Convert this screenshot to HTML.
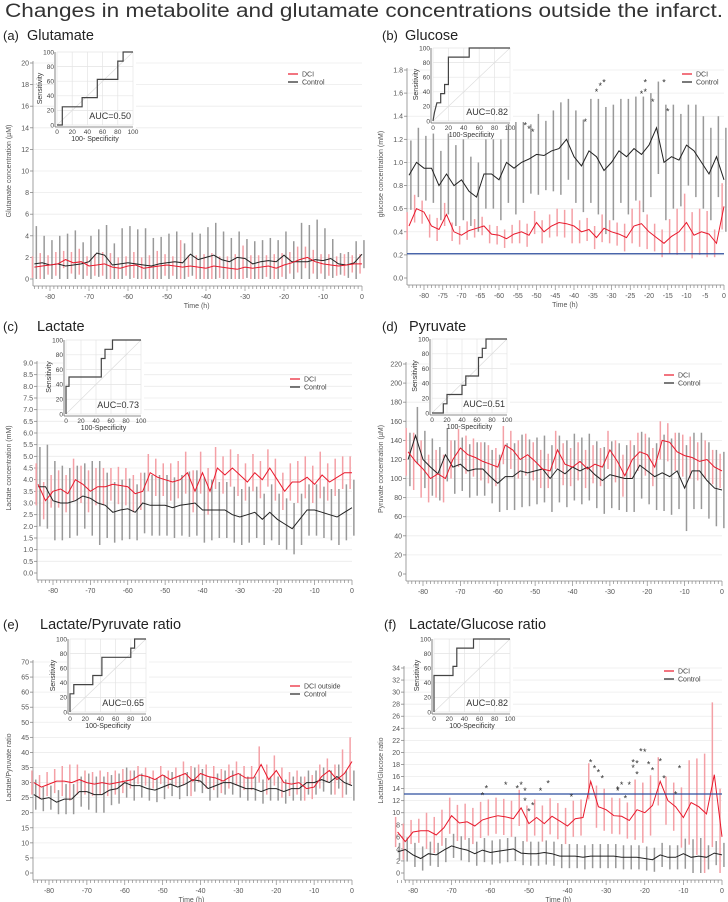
<!DOCTYPE html>
<html><head><meta charset="utf-8"><style>
html,body{margin:0;padding:0;background:#fff}
svg{display:block;font-family:"Liberation Sans",sans-serif}
</style></head><body>
<svg id="fig" width="728" height="902" viewBox="0 0 728 902">
<text x="364" y="17" text-anchor="middle" font-size="19" fill="#333" textLength="718" lengthAdjust="spacingAndGlyphs">Changes in metabolite and glutamate concentrations outside the infarct.</text>
</svg>
<script>
const times=[-84,-82,-80,-78,-76,-74,-72,-70,-68,-66,-64,-62,-60,-58,-56,-54,-52,-50,-48,-46,-44,-42,-40,-38,-36,-34,-32,-30,-28,-26,-24,-22,-20,-18,-16,-14,-12,-10,-8,-6,-4,-2,0];

const aDci=[1.1,1.2,1.3,1.4,1.8,1.5,1.6,1.2,1.3,1.4,1.1,1.0,1.2,1.3,1.0,1.1,1.2,1.3,1.2,1.1,1.2,1.1,1.0,1.2,1.1,1.0,0.9,1.1,1.0,1.1,1.2,1.0,1.3,1.5,1.8,2.0,1.6,1.4,1.3,1.2,1.3,1.4,1.4];
const aDciSd=[1.0,1.2,0.9,1.1,0.8,1.0,1.2,0.9,1.0,1.1,1.3,1.0,0.9,1.2,1.0,1.1,1.4,1.0,0.9,2.5,1.0,1.1,1.3,1.2,1.0,1.1,1.4,2.0,1.2,1.1,1.0,1.3,1.1,1.0,1.2,1.0,1.1,0.9,1.0,0.9,1.0,0.8,0.9];
const aCtl=[1.4,1.5,1.3,1.4,1.2,1.3,1.4,1.6,2.4,2.2,1.3,1.4,1.5,1.4,1.3,1.2,1.4,1.5,1.6,1.5,2.3,1.8,2.0,2.2,1.8,1.6,2.0,1.9,1.4,1.6,1.7,1.6,2.2,1.6,1.6,1.6,1.8,1.7,1.9,1.4,1.3,1.5,2.3];
const aCtlSd=[3.5,2.5,2.3,2.6,3.0,3.2,2.0,2.4,2.2,2.8,2.0,3.3,3.4,3.2,3.4,2.6,2.5,2.7,2.8,1.8,2.0,2.4,2.8,3.0,2.6,2.2,2.4,1.8,2.1,2.0,2.1,2.0,2.2,1.9,3.6,3.4,3.7,3.0,1.8,1.0,1.2,2.0,1.3];

const bDci=[0.45,0.6,0.57,0.45,0.42,0.55,0.4,0.37,0.41,0.43,0.45,0.38,0.37,0.34,0.38,0.4,0.37,0.48,0.4,0.45,0.48,0.47,0.45,0.4,0.42,0.35,0.43,0.4,0.38,0.35,0.45,0.47,0.4,0.35,0.3,0.36,0.4,0.48,0.37,0.4,0.38,0.3,0.62];
const bDciSd=[0.12,0.12,0.1,0.1,0.1,0.1,0.08,0.08,0.08,0.08,0.08,0.08,0.08,0.08,0.08,0.1,0.1,0.1,0.1,0.1,0.12,0.12,0.15,0.1,0.1,0.1,0.12,0.1,0.1,0.12,0.15,0.2,0.15,0.12,0.12,0.15,0.2,0.25,0.2,0.2,0.2,0.12,0.2];
const bCtl=[0.89,1.0,0.95,0.95,0.8,0.9,0.8,0.85,0.75,0.7,0.9,0.9,0.85,1.0,0.95,1.0,1.03,1.07,1.06,1.1,1.12,1.2,1.05,0.97,1.1,1.05,0.93,1.0,1.1,1.05,1.12,1.07,1.15,1.3,1.0,1.05,1.02,1.15,1.1,1.0,0.9,1.05,0.85];
const bCtlSd=[0.3,0.3,0.28,0.3,0.3,0.35,0.35,0.35,0.3,0.3,0.3,0.3,0.35,0.35,0.4,0.35,0.3,0.35,0.3,0.35,0.4,0.35,0.4,0.4,0.45,0.5,0.55,0.5,0.45,0.5,0.45,0.5,0.45,0.4,0.5,0.45,0.4,0.35,0.4,0.4,0.4,0.35,0.45];
const bStarT=[-53,-52,-51,-37,-34,-33,-32,-22,-21,-21,-19,-16,-15];
const bStarV=[1.33,1.3,1.27,1.36,1.62,1.67,1.7,1.6,1.62,1.7,1.53,1.7,1.45];

const cDci=[3.8,3.1,3.5,3.6,3.4,4.0,3.8,3.5,3.7,3.7,3.8,3.75,3.7,3.4,3.5,4.3,4.1,4.0,3.9,4.0,4.3,3.5,4.3,3.5,4.5,4.2,4.5,4.2,3.9,4.3,4.0,4.5,4.0,3.5,3.9,3.9,4.1,3.8,4.2,3.9,4.1,4.3,4.3];
const cDciSd=[0.9,0.8,0.7,0.8,0.8,0.9,0.8,0.9,0.8,0.8,0.7,0.8,0.8,0.8,0.8,0.8,0.8,0.7,0.8,0.8,0.9,0.9,0.9,1.0,0.9,0.8,0.8,0.9,0.8,0.8,0.8,0.8,0.9,0.8,0.8,0.9,0.9,0.8,1.0,0.8,0.8,0.7,0.7];
const cCtl=[3.7,3.7,3.1,3.0,3.0,3.1,3.3,3.2,3.0,2.9,2.6,2.7,2.75,2.6,3.0,2.9,2.9,2.9,2.8,2.9,2.95,3.0,2.7,2.7,2.7,2.7,2.5,2.4,2.5,2.6,2.3,2.6,2.3,2.1,1.9,2.3,2.7,2.7,2.6,2.5,2.4,2.6,2.8];
const cCtlSd=[1.7,1.8,1.7,1.6,1.5,1.5,1.4,1.6,1.8,1.4,1.3,1.3,1.3,1.2,1.3,1.3,1.3,1.3,1.3,1.3,1.4,1.4,1.4,1.3,1.2,1.2,1.2,1.2,1.2,1.1,1.1,1.2,1.1,1.1,1.1,1.1,1.1,1.1,1.1,1.1,1.2,1.2,1.2];

const dDci=[128,118,110,100,105,100,120,132,125,122,118,115,112,135,130,120,125,118,110,108,130,115,112,118,110,115,112,130,118,103,120,128,125,112,140,138,128,124,122,118,120,112,108];
const dDciSd=[25,30,30,25,25,25,20,20,20,20,20,20,20,20,20,20,22,20,20,18,20,22,20,20,20,20,20,20,22,22,20,20,22,20,20,20,20,22,22,20,20,18,18];
const dCtl=[120,145,120,112,105,125,112,115,108,110,110,102,95,102,102,108,106,108,110,100,110,105,112,108,112,104,98,104,102,100,100,114,108,102,106,102,108,90,108,108,98,90,88];
const dCtlSd=[28,30,30,30,28,28,28,28,28,28,28,28,30,35,35,38,35,35,35,35,35,35,35,35,35,35,35,35,35,35,35,35,35,35,40,40,40,45,40,40,40,40,40];

const eDci=[30,28.5,29.5,30.5,30.5,30,31,30,29.5,30,29.5,30,30.5,31,32.5,32,31,32.5,31,32,33,30.5,33,32,31.5,30.5,32,33,31.5,31.5,36,31,34,30,29.5,30,28,28.5,32,34,31,33,37];
const eDciSd=[4,4,4,4,5,6,5,4,4,4,4,4,4,3,3,3,3,3,3,3,4,5,3,4,4,4,4,4,4,4,6,5,5,5,4,4,4,4,4,4,5,8,8];
const eCtl=[26,24.5,25,23.5,24.5,24.5,27,27,26,26,27.5,28,30,29,29,28,27.5,28.5,29.5,28.5,29.5,31,30.5,28,29,30,30,29,28,28,27,28,28,27,28,28,30,30,31,30,32,30,29];
const eCtlSd=[5,4,4,4,5,5,5,6,6,6,5,5,5,5,4,4,4,4,4,4,4,4,4,4,4,4,4,4,4,4,4,4,4,4,4,4,4,4,4,4,4,4,5];

const fDci=[6.8,5.2,6.8,7.0,7.0,6.3,7.5,9.5,8.3,8.5,7.8,8.8,9.2,9.5,9.3,9.0,10.8,8.2,9.2,8.2,9.4,8.6,7.8,9.0,9.2,15.2,11,10.5,9.5,9.4,8.7,10.5,10,11.2,15.2,12,11,9.2,11.7,11,9.8,16.3,6];
const fDciSd=[2.5,3,2,2,3,3,3,3,3,3,3,3,3,3,3,3,3,3,3,3,3,3,3,3,3,3,3.5,3.5,3,3,3,5,5,5,4,4,4,5,7,8,10,12,8];
const fCtl=[3.5,3.9,3.0,2.4,3.2,3.0,3.8,4.5,4.1,3.8,3.2,3.8,3.4,3.6,3.8,4.0,3.3,3.2,3.2,3.4,3.2,2.8,2.8,2.8,2.6,2.8,2.8,2.8,2.8,2.6,2.6,2.6,2.4,2.2,3.0,2.6,2.6,3.2,2.6,2.8,2.6,3.3,3.0];
const fCtlSd=[1.5,2,2,2,2,2,2,2,2,2,2,2,2,2,2,2,2,2,2,2,2,2,2,2,2,2,2,2,2,2,2,2,2,2,2,2,2,2.5,3,3,2,2,2];
const fStarT=[-62,-61,-56,-53,-52,-51,-51,-50,-49,-47,-45,-39,-34,-33,-32,-31,-27,-27,-26,-25,-24,-23,-23,-22,-22,-21,-20,-19,-18,-16,-15,-12,-11];
const fStarV=[13,14.2,14.8,14.2,14.8,13.8,12.1,10.4,11.4,13.8,15,12.8,18.5,17.5,16.8,15.8,14,13.8,14.8,12.5,14.8,18.5,17.6,18.3,16.5,20.3,20.2,18.2,17.2,18.7,15.8,13.2,17.5];

const rocAx=[0,7,7,33,33,53,53,80,80,87,87,100], rocAy=[0,0,25,25,37.5,37.5,62.5,62.5,87.5,87.5,100,100];
const rocBx=[0,2,5,10,10,15,15,20,20,47,47,100], rocBy=[0,12,25,25,37.5,37.5,50,50,87.5,87.5,100,100];
const rocCx=[0,0,4,4,47,47,52,52,62,62,100], rocCy=[0,37.5,37.5,50,50,75,75,87.5,87.5,100,100];
const rocDx=[0,15,15,20,20,40,40,45,45,62,62,67,67,72,72,100], rocDy=[0,0,12.5,12.5,25,25,37.5,37.5,50,50,75,75,87.5,87.5,100,100];
const rocEx=[0,0,5,5,30,30,42,42,80,80,85,85,100], rocEy=[0,25,25,37.5,37.5,50,50,75,75,87.5,87.5,100,100];
const rocFx=[0,0,25,25,30,30,52,52,100], rocFy=[0,50,50,62.5,62.5,87.5,87.5,100,100];

const NS='http://www.w3.org/2000/svg';
const svg=document.getElementById('fig');
function mk(tag,attrs,parent,text){const e=document.createElementNS(NS,tag);for(const k in attrs)e.setAttribute(k,attrs[k]);if(text!==undefined)e.textContent=text;(parent||svg).appendChild(e);return e;}

const panels=[
 {id:'a',label:'(a)',title:'Glutamate',lx:3,tx:27,ty:40,x80:50,x0:362,y0:279,yT:63,vT:20,step:2,dec:0,axX:33,xStep:10,ytitle:'Glutamate concentration (\u00b5M)',ytx:8,xtitle:true,
  dci:aDci,dciSd:aDciSd,ctl:aCtl,ctlSd:aCtlSd,roc:[rocAx,rocAy],auc:'AUC=0.50',inset:[57,133,52,125],leg:[288,74],dciName:'DCI',rocx:'100- Specificity'},
 {id:'b',label:'(b)',title:'Glucose',lx:382,tx:405,ty:40,x80:424,x0:724,y0:278,yT:70,vT:1.8,step:0.2,dec:1,axX:407,xStep:5,ytitle:'glucose concentration (mM)',ytx:380,xtitle:true,
  dci:bDci,dciSd:bDciSd,ctl:bCtl,ctlSd:bCtlSd,roc:[rocBx,rocBy],auc:'AUC=0.82',inset:[433,510,48,121],leg:[682,74],dciName:'DCI',hline:0.21,starT:bStarT,starV:bStarV,rocx:'100-Specificity'},
 {id:'c',label:'(c)',title:'Lactate',lx:3,tx:37,ty:331,x80:53,x0:352,y0:573,yT:363,vT:9,step:0.5,dec:1,axX:37,xStep:10,ytitle:'Lactate concentration (mM)',ytx:8,xtitle:false,
  dci:cDci,dciSd:cDciSd,ctl:cCtl,ctlSd:cCtlSd,roc:[rocCx,rocCy],auc:'AUC=0.73',inset:[66,141,340,414],leg:[290,379],dciName:'DCI',rocx:'100-Specificity'},
 {id:'d',label:'(d)',title:'Pyruvate',lx:382,tx:409,ty:331,x80:423,x0:722,y0:574,yT:364,vT:220,step:20,dec:0,axX:406,xStep:10,ytitle:'Pyruvate concentration (\u00b5M)',ytx:380,xtitle:false,
  dci:dDci,dciSd:dDciSd,ctl:dCtl,ctlSd:dCtlSd,roc:[rocDx,rocDy],auc:'AUC=0.51',inset:[432,507,339,413],leg:[664,375],dciName:'DCI',rocx:'100-Specificity'},
 {id:'e',label:'(e)',title:'Lactate/Pyruvate ratio',lx:3,tx:40,ty:629,x80:49,x0:352,y0:873,yT:662,vT:70,step:5,dec:0,axX:33,xStep:10,ytitle:'Lactate/Pyruvate ratio',ytx:8,xtitle:true,
  dci:eDci,dciSd:eDciSd,ctl:eCtl,ctlSd:eCtlSd,roc:[rocEx,rocEy],auc:'AUC=0.65',inset:[70,146,639,712],leg:[290,686],dciName:'DCI outside',rocx:'100-Specificity'},
 {id:'f',label:'(f)',title:'Lactate/Glucose ratio',lx:384,tx:409,ty:629,x80:413,x0:722,y0:873,yT:668,vT:34,step:2,dec:0,axX:404,xStep:10,ytitle:'Lactate/Glucose ratio',ytx:380,xtitle:true,
  dci:fDci,dciSd:fDciSd,ctl:fCtl,ctlSd:fCtlSd,roc:[rocFx,rocFy],auc:'AUC=0.82',inset:[434,510,639,712],leg:[664,671],dciName:'DCI',hline:13.1,starT:fStarT,starV:fStarV,rocx:'100-Specificity'}
];

panels.forEach(p=>{
  const g=mk('g',{});
  
  
  const X=t=>p.x0+(p.x80-p.x0)*(t/-80);
  const Y=v=>p.y0-(p.y0-p.yT)*(v/p.vT);
  const xl=X(-84.8), xr=X(0);
  const lab=mk('text',{x:p.lx,y:p.ty,'font-size':13,fill:'#222'},g,p.label);
  
  
  const tt=mk('text',{x:p.tx,y:p.ty,'font-size':14.5,fill:'#222'},g,p.title);
  
  
  const nT=Math.round(p.vT/p.step);
  for(let i=0;i<=nT;i++){
    const v=i*p.step, y=Y(v);
    if(i>0) mk('line',{x1:p.axX,x2:xr,y1:y,y2:y,stroke:'#ececec','stroke-width':0.8},g);
    mk('line',{x1:p.axX-3,x2:p.axX,y1:y,y2:y,stroke:'#888','stroke-width':0.8},g);
    const tl=mk('text',{x:p.axX-4,y:y+2.5,'font-size':7,fill:'#555','text-anchor':'end'},g,v.toFixed(p.dec));
    
    
  }
  const ya=mk('line',{x1:p.axX,x2:p.axX,y1:Y(p.vT)-2,y2:p.y0+7,stroke:'#888','stroke-width':0.8},g);
  
  
  const yt=mk('text',{x:0,y:0,'font-size':7,fill:'#555','text-anchor':'middle',transform:`translate(${p.ytx+3},${(p.y0+p.yT)/2}) rotate(-90)`},g,p.ytitle);
  
  
  const axY=p.y0+7;
  const xa=mk('line',{x1:p.axX,x2:xr,y1:axY,y2:axY,stroke:'#888','stroke-width':0.8},g);
  
  
  for(let t=-84;t<=0;t++){
    const major=(t%p.xStep===0);
    mk('line',{x1:X(t),x2:X(t),y1:axY,y2:axY+(major?5:3),stroke:'#888','stroke-width':0.7},g);
    if(major){
      const xl2=mk('text',{x:X(t),y:axY+13,'font-size':7,fill:'#555','text-anchor':'middle'},g,String(t));
      
      
    }
  }
  if(p.xtitle){
    const xt=mk('text',{x:(xl+xr)/2,y:axY+22,'font-size':7,fill:'#555','text-anchor':'middle'},g,'Time (h)');
    
    
  }
  const series=[[p.ctl,p.ctlSd,'#999','#222','control'],[p.dci,p.dciSd,'#f4a0a6','#e8192c','dci']];
  series.forEach(([m,sd,bc,lc,nm],si)=>{
    const sg=mk('g',{},g);
    
    
    m.forEach((v,i)=>{
      const t=times[i]+(si===0?0.5:-0.5);
      const lo=Math.max(0,v-sd[i]), hi=Math.min(p.vT*1.05,v+sd[i]);
      const eb=mk('line',{x1:X(t),x2:X(t),y1:Y(lo),y2:Y(hi),stroke:bc,'stroke-width':1.5},sg);
      
      
    });
  });
  series.forEach(([m,sd,bc,lc,nm])=>{
    const pts=m.map((v,i)=>X(times[i]).toFixed(1)+','+Y(v).toFixed(1)).join(' ');
    const pl=mk('polyline',{points:pts,fill:'none',stroke:lc,'stroke-width':1},g);
    
    
  });
  if(p.hline!==undefined){
    const hl=mk('line',{x1:p.axX,x2:xr,y1:Y(p.hline),y2:Y(p.hline),stroke:'#2f4f9f','stroke-width':1.3},g);
    
    
  }
  if(p.starT){
    p.starT.forEach((t,i)=>{
      const s=mk('text',{x:X(t),y:Y(p.starV[i])+4,'font-size':9,fill:'#333','text-anchor':'middle'},g,'*');
      
      
    });
  }
  const [lx,ly]=p.leg;
  const lg=mk('g',{},g);
  
  
  mk('line',{x1:lx,x2:lx+10,y1:ly,y2:ly,stroke:'#e8192c','stroke-width':1.2},lg);
  mk('text',{x:lx+14,y:ly+2.5,'font-size':7,fill:'#444'},lg,p.dciName);
  mk('line',{x1:lx,x2:lx+10,y1:ly+8,y2:ly+8,stroke:'#222','stroke-width':1.2},lg);
  mk('text',{x:lx+14,y:ly+10.5,'font-size':7,fill:'#444'},lg,'Control');
  const [ix0,ix1,iy0,iy1]=p.inset;
  const IX=v=>ix0+(ix1-ix0)*v/100, IY=v=>iy1-(iy1-iy0)*v/100;
  const ig=mk('g',{},g);
  
  
  mk('rect',{x:ix0-3,y:iy0-3,width:ix1-ix0+6,height:iy1-iy0+6,fill:'#fff'},ig);
  for(let v=0;v<=100;v+=20){
    mk('line',{x1:IX(v),x2:IX(v),y1:iy0,y2:iy1,stroke:'#e4e4e4','stroke-width':0.7},ig);
    mk('line',{x1:ix0,x2:ix1,y1:IY(v),y2:IY(v),stroke:'#e4e4e4','stroke-width':0.7},ig);
    mk('text',{x:IX(v),y:iy1+9,'font-size':6.5,fill:'#444','text-anchor':'middle'},ig,String(v));
    mk('text',{x:ix0-3,y:IY(v)+2.3,'font-size':6.5,fill:'#444','text-anchor':'end'},ig,String(v));
  }
  mk('line',{x1:IX(0),y1:IY(0),x2:IX(100),y2:IY(100),stroke:'#ddd','stroke-width':0.7},ig);
  mk('line',{x1:ix0-2,x2:ix0-2,y1:iy0,y2:iy1+2,stroke:'#666','stroke-width':0.8},ig);
  mk('line',{x1:ix0-2,x2:ix1,y1:iy1+2,y2:iy1+2,stroke:'#666','stroke-width':0.8},ig);
  const rp=p.roc[0].map((v,i)=>IX(v).toFixed(1)+','+IY(p.roc[1][i]).toFixed(1)).join(' ');
  const rl=mk('polyline',{points:rp,fill:'none',stroke:'#444','stroke-width':1.2},ig);
  
  
  mk('text',{x:ix1-2,y:iy1-6,'font-size':9,fill:'#333','text-anchor':'end'},ig,p.auc);
  mk('text',{x:(ix0+ix1)/2,y:iy1+16,'font-size':7,fill:'#333','text-anchor':'middle'},ig,p.rocx);
  mk('text',{x:0,y:0,'font-size':7,fill:'#333','text-anchor':'middle',transform:`translate(${ix0-15},${(iy0+iy1)/2}) rotate(-90)`},ig,'Sensitivity');
});
</script>
</body></html>
